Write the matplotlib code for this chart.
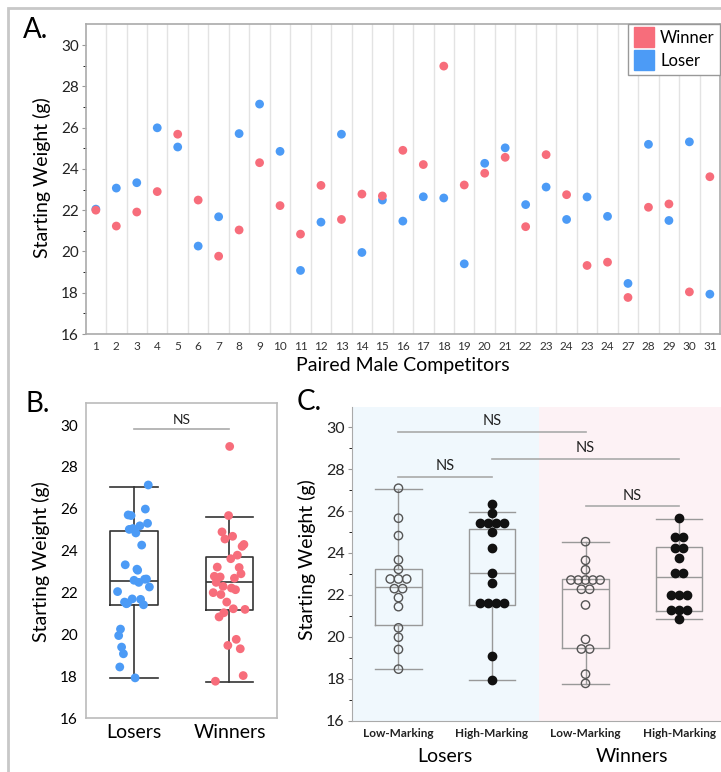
import matplotlib.pyplot as plt
import numpy as np
from matplotlib.lines import Line2D
from matplotlib.patches import Rectangle

plt.rcParams['font.family'] = ['Lato', 'DejaVu Sans']

# ---- data ----
pairs = list(range(1, 32))
pair_labels = ['1', '2', '3', '4', '5', '6', '7', '8', '9', '10', '11', '12', '13', '14', '15',
               '16', '17', '18', '19', '20', '21', '22', '23', '24', '23', '24', '27', '28', '29',
               '30', '31']
winner_weight = [22.00, 21.23, 21.91, 22.90, 25.68, 22.49, 19.77, 21.04, 24.30, 22.22, 20.84,
                 23.20, 21.55, 22.78, 22.69, 24.90, 24.21, 28.98, 23.22, 23.79, 24.56, 21.20,
                 24.69, 22.75, 19.32, 19.48, 17.77, 22.14, 22.30, 18.04, 23.62]
loser_weight = [22.05, 23.07, 23.33, 25.99, 25.06, 20.26, 21.68, 25.71, 27.14, 24.85, 19.08,
                21.42, 25.68, 19.95, 22.49, 21.47, 22.65, 22.59, 19.40, 24.27, 25.02, 22.27,
                23.12, 21.55, 22.64, 21.70, 18.45, 25.19, 21.50, 25.31, 17.93]

b_groups = ['Losers', 'Winners']
b_whislo = [17.91, 17.72]
b_q1 = [21.43, 21.17]
b_med = [22.57, 22.49]
b_q3 = [24.96, 23.72]
b_whishi = [27.06, 25.63]

c_groups = ['Low-Marking', 'High-Marking', 'Low-Marking', 'High-Marking']
c_outcome = ['Losers', 'Winners']
losers_low = [27.09, 25.66, 24.83, 23.67, 23.22, 22.76, 22.76, 22.76, 22.30, 22.30, 21.87,
              21.44, 20.43, 19.98, 19.40, 18.46]
losers_high = [26.34, 25.90, 25.42, 25.42, 25.42, 25.42, 24.99, 24.24, 23.06, 22.58, 21.60,
               21.60, 21.60, 21.60, 19.08, 17.94]
winners_low = [24.54, 23.65, 23.20, 22.71, 22.71, 22.71, 22.71, 22.71, 22.27, 22.27, 21.52,
               19.88, 19.42, 19.42, 18.22, 17.78]
winners_high = [25.66, 24.78, 24.78, 24.22, 24.22, 23.75, 23.05, 23.05, 22.00, 22.00, 22.00,
                21.28, 21.28, 21.28, 20.85]
c_whislo = [18.45, 17.94, 17.76, 20.85]
c_q1 = [20.55, 21.52, 19.48, 21.23]
c_med = [22.39, 23.03, 22.27, 22.87]
c_q3 = [23.25, 25.13, 22.76, 24.29]
c_whishi = [27.05, 25.94, 24.54, 25.64]

b_ns = [(0, 1, 29.80)]
c_ns = [(0, 2, 29.79), (1, 3, 28.49), (0, 1, 27.64), (2, 3, 26.24)]

RED = '#F76D7B'
BLUE = '#4C9BF6'
W, H = 721, 772


def fx(px):
    return px / W


def fy(py):
    return 1 - py / H


def swarm_x(vals, center):
    vals = np.asarray(vals)
    xs = np.full(len(vals), float(center))
    for v in np.unique(vals):
        idx = np.where(vals == v)[0]
        n = len(idx)
        step = 0.088 if n < 5 else 0.078
        xs[idx] = center + (np.arange(n) - (n - 1) / 2) * step
    return xs


def make_stats(lo, q1, med, q3, hi):
    return [dict(whislo=a, q1=b, med=c, q3=d, whishi=e)
            for a, b, c, d, e in zip(lo, q1, med, q3, hi)]


fig = plt.figure(figsize=(7.21, 7.72), dpi=100)
fig.add_artist(Rectangle((fx(8), -0.1), 1.2, fy(8) + 0.1, transform=fig.transFigure,
                         fill=False, edgecolor='#c8c8c8', lw=2))

# ---- A ----
axA = fig.add_axes([fx(85.6), fy(334), fx(720.5 - 85.6), (334 - 24) / H])
axA.scatter(pairs, loser_weight, s=40, color=BLUE, edgecolor='none', zorder=3)
axA.scatter(pairs, winner_weight, s=40, color=RED, edgecolor='none', zorder=3)
axA.set_xlim(0.5, 31.52)
axA.set_ylim(16, 31.02)
axA.set_xticks(pairs)
axA.set_xticklabels(pair_labels, fontsize=8.5, color='#333')
axA.set_xticks(np.arange(1.5, 31.5, 1), minor=True)
axA.grid(axis='x', which='minor', color='#e3e3e3', lw=1)
axA.tick_params(axis='x', which='both', length=0, pad=5)
axA.set_yticks(range(16, 31, 2))
axA.set_yticks(range(17, 31, 2), minor=True)
axA.tick_params(axis='y', labelsize=11, colors='#999', labelcolor='#222', length=3, pad=2)
axA.tick_params(axis='y', which='minor', length=2)
for s in axA.spines.values():
    s.set_color('#aaa')
    s.set_linewidth(1.2)
handles = [Line2D([], [], ls='', marker='s', markersize=15, color=RED, label='Winner'),
           Line2D([], [], ls='', marker='s', markersize=15, color=BLUE, label='Loser')]
leg = axA.legend(handles=handles, loc='upper right', bbox_to_anchor=(1.0, 1.0), borderaxespad=0,
                 fontsize=12, handlelength=1.2, handletextpad=0.35, labelspacing=0.45,
                 borderpad=0.35, fancybox=False, framealpha=1, edgecolor='#999')
leg.get_frame().set_linewidth(1)
fig.text(fx(23), fy(38.3), 'A.', fontsize=20, va='baseline', ha='left')
fig.text(fx(42), fy(178), 'Starting Weight (g)', fontsize=14, rotation=90, ha='center', va='center')
fig.text(fx(403), fy(365), 'Paired Male Competitors', fontsize=14, ha='center', va='center')

# ---- B ----
axB = fig.add_axes([fx(86), fy(718.3), fx(277.3 - 86), (718.3 - 403.3) / H])
axB.bxp(make_stats(b_whislo, b_q1, b_med, b_q3, b_whishi), positions=[0, 1], widths=0.5,
        capwidths=0.5, showfliers=False,
        boxprops=dict(color='#333', lw=1.2), whiskerprops=dict(color='#333', lw=1.2),
        capprops=dict(color='#333', lw=1.2), medianprops=dict(color='#333', lw=1.2))
for i, (vals, col) in enumerate([(loser_weight, BLUE), (winner_weight, RED)]):
    jit = ((np.arange(len(vals)) * 0.618) % 1 - 0.5) * 0.34
    axB.scatter(i + jit, vals, s=40, color=col, edgecolor='none', zorder=3)
for x0, x1, y in b_ns:
    axB.plot([x0, x1], [y, y], color='#aaa', lw=1.2)
    axB.text((x0 + x1) / 2, y + 0.45, 'NS', ha='center', va='center', fontsize=10, color='#222')
axB.set_xlim(-0.5, 1.5)
axB.set_ylim(16, 31.04)
axB.set_xticks([0, 1])
axB.set_xticklabels(b_groups, fontsize=14)
axB.set_yticks(range(16, 31, 2))
axB.tick_params(axis='y', labelsize=11, length=0, pad=6)
axB.tick_params(axis='x', length=0, pad=4)
for s in axB.spines.values():
    s.set_color('#bbb')
    s.set_linewidth(1.2)
fig.text(fx(25), fy(411.7), 'B.', fontsize=20, va='baseline', ha='left')
fig.text(fx(41), fy(562), 'Starting Weight (g)', fontsize=14, rotation=90, ha='center', va='center')

# ---- C ----
axC = fig.add_axes([fx(351.7), fy(720.7), fx(725.8 - 351.7), (720.7 - 407.3) / H])
axC.axvspan(-0.5, 1.5, color='#F0F8FD', zorder=0, lw=0)
axC.axvspan(1.5, 3.5, color='#FDF2F5', zorder=0, lw=0)
axC.bxp(make_stats(c_whislo, c_q1, c_med, c_q3, c_whishi), positions=[0, 1, 2, 3], widths=0.5,
        capwidths=0.5, showfliers=False,
        boxprops=dict(color='#999', lw=1), whiskerprops=dict(color='#999', lw=1),
        capprops=dict(color='#999', lw=1), medianprops=dict(color='#999', lw=1))
for i, vals in enumerate([losers_low, losers_high, winners_low, winners_high]):
    if i % 2 == 0:
        axC.scatter(swarm_x(vals, i), vals, s=36, facecolor='none', edgecolor='#555', lw=1, zorder=3)
    else:
        axC.scatter(swarm_x(vals, i), vals, s=36, color='#111', zorder=3)
for x0, x1, y in c_ns:
    axC.plot([x0, x1], [y, y], color='#aaa', lw=1.2)
    axC.text((x0 + x1) / 2, y + 0.5, 'NS', ha='center', va='center', fontsize=10.5, color='#222')
axC.set_xlim(-0.5, 3.5)
axC.set_ylim(16, 30.95)
axC.set_xticks([0, 1, 2, 3])
axC.set_xticklabels(c_groups, fontsize=8.5, fontweight='bold', color='#222')
axC.tick_params(axis='x', length=0, pad=5)
axC.set_yticks(range(16, 31, 2))
axC.set_yticks(range(17, 31, 2), minor=True)
axC.tick_params(axis='y', labelsize=11.5, colors='#999', labelcolor='#222', length=3, pad=2)
axC.tick_params(axis='y', which='minor', length=2)
for side in ['top', 'right']:
    axC.spines[side].set_visible(False)
for side in ['left', 'bottom']:
    axC.spines[side].set_color('#aaa')
for i, name in enumerate(c_outcome):
    axC.text(2 * i + 0.5, -0.115, name, transform=axC.get_xaxis_transform(),
             ha='center', va='center', fontsize=14)
fig.text(fx(297), fy(410), 'C.', fontsize=20, va='baseline', ha='left')
fig.text(fx(306.5), fy(560), 'Starting Weight (g)', fontsize=14, rotation=90, ha='center', va='center')

fig.savefig('out.png', dpi=100)
